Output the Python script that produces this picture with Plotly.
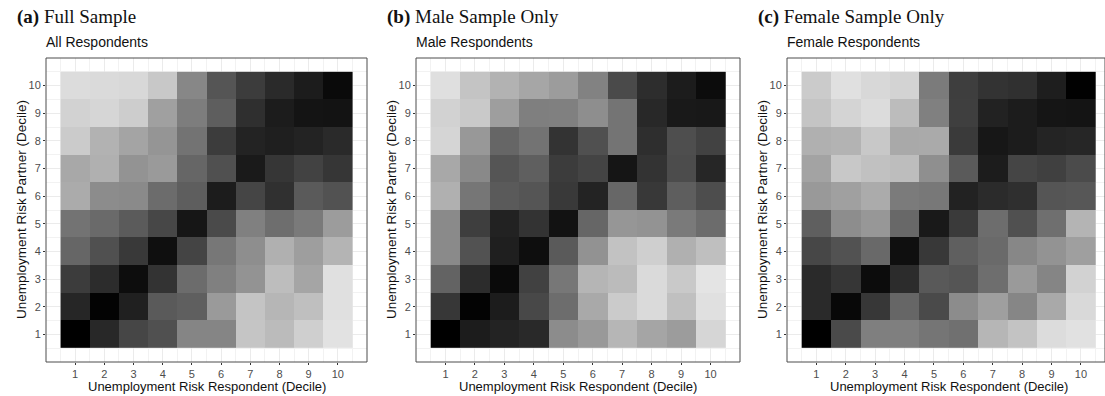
import plotly.graph_objects as go

W, H = 1105, 396

deciles = list(range(1, 11))
rows_top_down = list(range(10, 0, -1))
tick_labels = [str(d) for d in deciles]

# Cell shade (0 = black, 255 = white) by partner decile (rows 10 -> 1) and respondent decile (cols 1 -> 10)
shade_all = [
    [220, 218, 216, 200, 135, 85, 60, 42, 28, 10],
    [210, 214, 205, 160, 125, 94, 47, 28, 20, 19],
    [203, 178, 164, 149, 115, 60, 35, 31, 35, 42],
    [168, 176, 147, 154, 102, 80, 26, 54, 66, 54],
    [171, 140, 138, 108, 94, 28, 69, 48, 90, 82],
    [115, 106, 91, 71, 22, 74, 128, 110, 122, 156],
    [102, 80, 57, 15, 68, 119, 142, 176, 158, 180],
    [60, 44, 13, 51, 108, 128, 147, 189, 165, 224],
    [38, 3, 32, 90, 95, 154, 196, 182, 191, 224],
    [0, 40, 70, 80, 133, 133, 197, 187, 207, 226],
]

shade_male = [
    [223, 196, 178, 166, 156, 130, 74, 45, 28, 12],
    [210, 201, 158, 127, 128, 142, 116, 40, 25, 24],
    [213, 152, 102, 115, 51, 80, 116, 46, 78, 66],
    [168, 137, 85, 95, 60, 68, 21, 51, 76, 38],
    [176, 118, 90, 85, 57, 35, 103, 56, 94, 77],
    [138, 62, 34, 51, 18, 102, 150, 147, 122, 108],
    [138, 82, 31, 14, 90, 146, 194, 207, 176, 191],
    [99, 44, 10, 65, 119, 181, 187, 218, 201, 228],
    [55, 3, 28, 72, 109, 169, 203, 218, 192, 224],
    [0, 28, 35, 41, 140, 153, 182, 165, 156, 214],
]

shade_female = [
    [203, 224, 216, 211, 123, 62, 51, 48, 30, 1],
    [196, 212, 220, 188, 128, 63, 34, 28, 21, 20],
    [176, 179, 200, 169, 170, 58, 23, 28, 36, 38],
    [163, 200, 193, 189, 143, 90, 28, 69, 64, 75],
    [153, 160, 171, 123, 120, 34, 43, 47, 85, 87],
    [95, 141, 151, 104, 25, 58, 109, 80, 111, 180],
    [71, 82, 105, 15, 56, 95, 106, 135, 147, 159],
    [42, 54, 12, 44, 89, 85, 110, 154, 133, 210],
    [42, 8, 55, 102, 74, 140, 159, 134, 169, 217],
    [0, 74, 127, 127, 117, 112, 182, 195, 220, 225],
]

panel_titles = ["(a)", "(b)", "(c)"]
panel_names = ["Full Sample", "Male Sample Only", "Female Sample Only"]
subtitles = ["All Respondents", "Male Respondents", "Female Respondents"]
x_title = "Unemployment Risk Respondent (Decile)"
y_title = "Unemployment Risk Partner (Decile)"

# panel geometry in pixels: left, right, x-range max
panels = [
    (46, 367, 11.0),
    (416, 740, 11.0),
    (787, 1105, 10.82),
]
top_px, bot_px = 58, 362

def px(x):
    return x / W

def py(y):
    return 1 - y / H

fig = go.Figure()
annotations = []
shapes = []
shades = [shade_all, shade_male, shade_female]

for i, ((left, right, xmax), z) in enumerate(zip(panels, shades)):
    n = "" if i == 0 else str(i + 1)
    fig.add_trace(go.Heatmap(
        z=z, x=deciles, y=rows_top_down,
        colorscale=[[0, "#000000"], [1, "#ffffff"]], zmin=0, zmax=255,
        showscale=False, xaxis="x" + n, yaxis="y" + n, hoverinfo="skip",
    ))
    common = dict(
        tickmode="array", tickvals=deciles, ticktext=tick_labels,
        ticks="outside", ticklen=2, tickcolor="#333333", tickwidth=1,
        tickfont=dict(family="Liberation Sans, Arial", size=11, color="#4d4d4d"),
        showgrid=True, gridcolor="#ebebeb", gridwidth=1,
        minor=dict(tickmode="array", tickvals=[x + 0.5 for x in range(0, 11)],
                   showgrid=True, gridcolor="#f2f2f2", gridwidth=0.6, ticks=""),
        zeroline=False, showline=False, fixedrange=True,
    )
    fig.update_layout(**{
        "xaxis" + n: dict(domain=[px(left), min(px(right), 1.0)], range=[0, xmax],
                          anchor="y" + n, **common),
        "yaxis" + n: dict(domain=[py(bot_px), py(top_px)], range=[0, 11],
                          anchor="x" + n, **common),
    })
    # panel border
    shapes.append(dict(type="rect", xref="paper", yref="paper",
                       x0=px(left), x1=px(right), y0=py(bot_px), y1=py(top_px),
                       line=dict(color="#4d4d4d", width=1), layer="above"))
    # headings
    annotations.append(dict(
        text=f"<b>{panel_titles[i]}</b> {panel_names[i]}",
        x=px(left - 31), y=py(17), xref="paper", yref="paper",
        xanchor="left", yanchor="middle", showarrow=False,
        font=dict(family="Liberation Serif, Times New Roman, serif", size=19, color="#111111"),
    ))
    annotations.append(dict(
        text=subtitles[i], x=px(left - 2), y=py(42), xref="paper", yref="paper",
        xanchor="left", yanchor="middle", showarrow=False,
        font=dict(family="Liberation Sans, Arial", size=14, color="#111111"),
    ))
    annotations.append(dict(
        text=x_title, x=px((left + (left + 11 * (right - left) / xmax)) / 2), y=py(386),
        xref="paper", yref="paper", xanchor="center", yanchor="middle", showarrow=False,
        font=dict(family="Liberation Sans, Arial", size=13, color="#111111"),
    ))
    annotations.append(dict(
        text=y_title, x=px(left - 25), y=py((top_px + bot_px) / 2),
        xref="paper", yref="paper", xanchor="center", yanchor="middle",
        textangle=-90, showarrow=False,
        font=dict(family="Liberation Sans, Arial", size=13.5, color="#111111"),
    ))

fig.update_layout(
    width=W, height=H, margin=dict(l=0, r=0, t=0, b=0),
    paper_bgcolor="white", plot_bgcolor="white",
    annotations=annotations, shapes=shapes, showlegend=False,
)

fig.write_html("out.html")
